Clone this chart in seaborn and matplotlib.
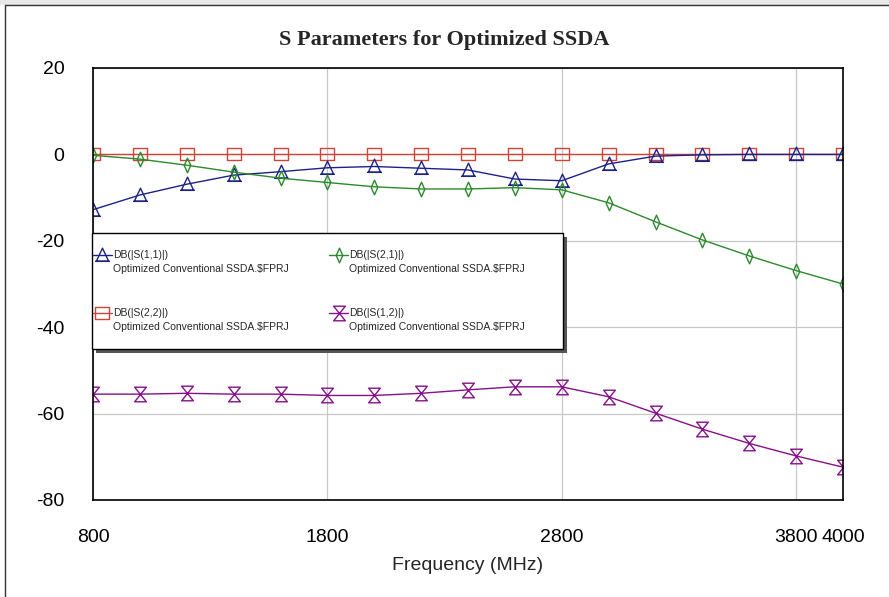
import numpy as np
import pandas as pd
import matplotlib
matplotlib.use("Agg")
import matplotlib.pyplot as plt
from matplotlib.path import Path
from matplotlib.patches import Rectangle
from matplotlib.lines import Line2D
from matplotlib.legend_handler import HandlerLine2D
import seaborn as sns

# ---- data (dB vs. frequency in MHz) ----
freq_mhz = [800, 1000, 1200, 1400, 1600, 1800, 2000, 2200, 2400,
            2600, 2800, 3000, 3200, 3400, 3600, 3800, 4000]
s11_db = [-12.8, -9.4, -6.9, -4.8, -4.0, -3.1, -2.8, -3.2, -3.6,
          -5.7, -6.1, -2.2, -0.4, -0.1, 0.0, 0.0, 0.0]
s21_db = [-0.2, -1.1, -2.5, -4.1, -5.5, -6.5, -7.5, -8.0, -8.0,
          -7.7, -8.2, -11.2, -15.6, -19.8, -23.5, -26.9, -30.0]
s22_db = [0.0, 0.0, 0.0, 0.0, 0.0, 0.0, 0.0, 0.0, 0.0,
          0.0, 0.0, 0.0, 0.0, 0.0, 0.0, 0.0, 0.0]
s12_db = [-55.5, -55.5, -55.3, -55.5, -55.5, -55.8, -55.8, -55.3, -54.5,
          -53.8, -53.8, -56.1, -59.9, -63.6, -66.9, -69.8, -72.4]

trace_names = ["DB(|S(1,1)|)", "DB(|S(2,1)|)", "DB(|S(2,2)|)", "DB(|S(1,2)|)"]
source_name = "Optimized Conventional SSDA.$FPRJ"
x_ticks = [800, 1800, 2800, 3800, 4000]
y_ticks = [20, 0, -20, -40, -60, -80]

# ---- marker shapes ----
M, L, C = Path.MOVETO, Path.LINETO, Path.CLOSEPOLY
tri_marker = Path([(0, 1), (-0.85, -0.8), (0.85, -0.8), (0, 1), (-1, -0.8), (1, -0.8)],
                  [M, L, L, C, M, L])
dia_marker = Path([(0, 1), (0.45, 0), (0, -1), (-0.45, 0), (0, 1)], [M, L, L, L, C])
sq_marker = Path([(-1, -0.88), (1, -0.88), (1, 0.88), (-1, 0.88), (-1, -0.88)], [M, L, L, L, C])
hg_marker = Path([(-0.8, 1), (0.8, 1), (-0.8, -1), (0.8, -1), (-0.8, 1)], [M, L, L, L, C])

series = [
    (trace_names[0], s11_db, "#1c2288", tri_marker),
    (trace_names[1], s21_db, "#2b8a2b", dia_marker),
    (trace_names[2], s22_db, "#d04438", sq_marker),
    (trace_names[3], s12_db, "#85108a", hg_marker),
]
MS = 10.5

sns.set_style("white")
plt.rcParams["font.family"] = ["Liberation Sans", "DejaVu Sans"]

fig = plt.figure(figsize=(8.89, 5.97), dpi=100)
ax = fig.add_axes([93 / 889, 1 - 500 / 597, 750 / 889, 432 / 597])

handles = []
# draw S(2,2) first so the other traces sit on top of it
order = [2, 0, 1, 3]
for i in order:
    name, vals, col, mk = series[i]
    df = pd.DataFrame({"freq": freq_mhz, "db": vals})
    sns.lineplot(data=df, x="freq", y="db", ax=ax, color=col, linewidth=1.0,
                 marker=mk, markersize=MS, markerfacecolor="none",
                 markeredgecolor=col, markeredgewidth=1.0, legend=False)
for name, vals, col, mk in series:
    handles.append(Line2D([], [], color=col, linewidth=1.0, marker=mk, markersize=MS,
                          markerfacecolor="none", markeredgecolor=col,
                          markeredgewidth=1.0))

ax.set_xlim(800, 4000)
ax.set_ylim(-80, 20)
ax.set_xticks(x_ticks)
ax.set_xticklabels([str(t) for t in x_ticks])
ax.set_yticks(y_ticks)
ax.set_yticklabels([str(t) for t in y_ticks])
ax.tick_params(axis="both", length=0, labelsize=14, colors="black")
ax.tick_params(axis="y", pad=20.5)
ax.tick_params(axis="x", pad=21)
ax.grid(True, color="#c8c8c8", linewidth=0.9)
ax.set_axisbelow(True)
for sp in ax.spines.values():
    sp.set_visible(True)
    sp.set_color("black")
    sp.set_linewidth(1.2)
ax.set_xlabel("Frequency (MHz)", fontsize=14, labelpad=8)
ax.set_ylabel("")

fig.text(0.5, 1 - 40 / 597, "S Parameters for Optimized SSDA",
         ha="center", va="center", fontsize=16, fontweight="bold",
         family=["Liberation Serif", "DejaVu Serif"])


# legend handles sit level with the first line of each two-line label
class LiftedHandler(HandlerLine2D):
    def __init__(self, lift, **kw):
        super().__init__(**kw)
        self.lift = lift

    def create_artists(self, legend, orig_handle, xdescent, ydescent,
                       width, height, fontsize, trans):
        arts = super().create_artists(legend, orig_handle, xdescent, ydescent,
                                      width, height, fontsize, trans)
        for a in arts:
            a.set_ydata(np.asarray(a.get_ydata(), float) + self.lift)
        return arts


# legend box with drop shadow
box_x0, box_y0, box_w, box_h = 92, 233, 471, 116
ax.add_patch(Rectangle(((box_x0 + 4) / 889, 1 - (box_y0 + box_h + 4) / 597),
                       box_w / 889, box_h / 597, transform=fig.transFigure,
                       facecolor="#555555", edgecolor="none", zorder=4.4, clip_on=False))
ax.add_patch(Rectangle((box_x0 / 889, 1 - (box_y0 + box_h) / 597),
                       box_w / 889, box_h / 597, transform=fig.transFigure,
                       facecolor="white", edgecolor="black", linewidth=1.0,
                       zorder=4.5, clip_on=False))

labels = [f"{n}\n{source_name}" for n in trace_names]
leg_handles = [handles[0], handles[2], handles[1], handles[3]]
leg_labels = [labels[0], labels[2], labels[1], labels[3]]
leg = ax.legend(leg_handles, leg_labels, ncol=2, loc="upper left",
                bbox_to_anchor=(93 / 889, 1 - 250 / 597), bbox_transform=fig.transFigure,
                borderaxespad=0, borderpad=0, frameon=False, fontsize=7.5,
                handlelength=1.8, handletextpad=0.15, columnspacing=3.85,
                labelspacing=3.3,
                handler_map={Line2D: LiftedHandler(5.4)})
for t in leg.get_texts():
    t.set_linespacing(1.45)
leg.set_zorder(5)

# outer frame of the chart window
fig.add_artist(Rectangle((0, 1 - 5 / 597), 1, 5 / 597, transform=fig.transFigure,
                         facecolor="#e8e8e8", edgecolor="none"))
fig.add_artist(Line2D([5 / 889, 1], [1 - 5 / 597, 1 - 5 / 597], transform=fig.transFigure,
                      color="#333333", linewidth=1.0))
fig.add_artist(Line2D([5 / 889, 5 / 889], [0, 1 - 5 / 597], transform=fig.transFigure,
                      color="#333333", linewidth=1.0))

fig.savefig("out.png", dpi=100)
